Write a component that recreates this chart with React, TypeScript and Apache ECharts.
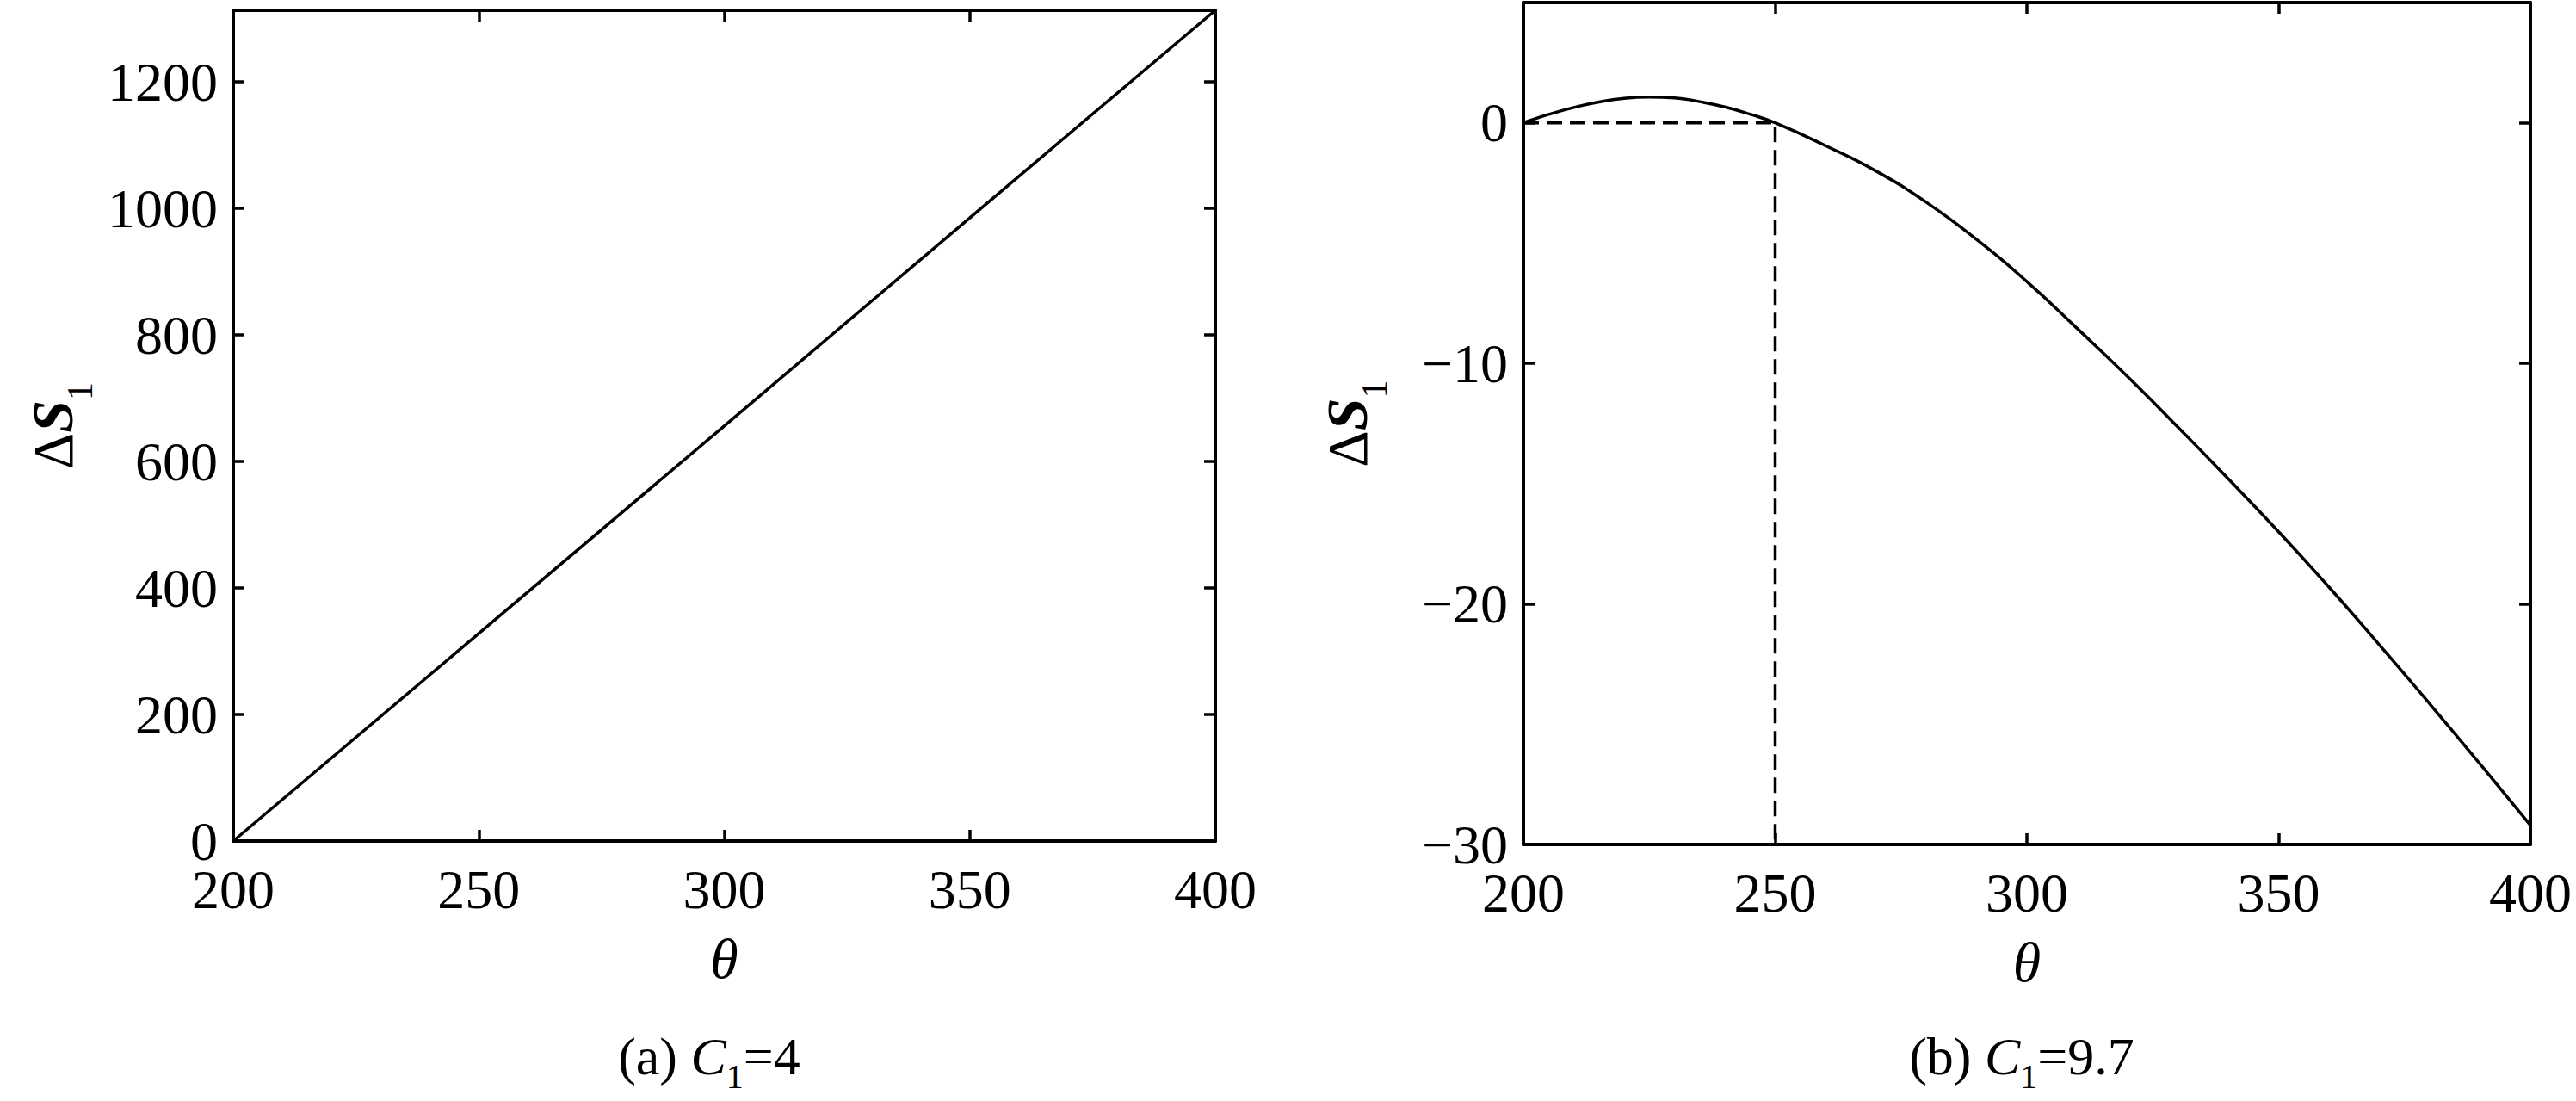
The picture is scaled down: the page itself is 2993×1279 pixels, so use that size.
import React, { useEffect, useRef } from "react";
import * as echarts from "echarts";

// Panel (a): C1 = 4
const thetaA = [200, 250, 300, 350, 400];
const dS1A = [0, 328, 656, 985, 1313];

// Panel (b): C1 = 9.7
const thetaB = [200, 205, 210, 215, 220, 225, 230, 235, 240, 245, 250, 260, 270, 280, 290, 300, 310, 320, 330, 340, 350, 360, 370, 380, 390, 400];
const dS1B = [0, 0.35, 0.64, 0.87, 1.02, 1.07, 1.04, 0.88, 0.66, 0.36, 0, -0.95, -2.0, -3.3, -4.85, -6.6, -8.55, -10.55, -12.65, -14.8, -17.0, -19.3, -21.7, -24.15, -26.65, -29.2];

// Dashed guide in panel (b)
const guideTheta = [200, 250, 250];
const guideVal = [0, 0, -30];

const xTicks = [200, 250, 300, 350, 400];
const yTicksA = [0, 200, 400, 600, 800, 1000, 1200];
const yTicksB = [-30, -20, -10, 0];

const FONT = "Liberation Serif, Times New Roman, serif";

export default function App() {
  const ref = useRef<HTMLDivElement>(null);
  useEffect(() => {
    const chart = echarts.init(ref.current!, null, { renderer: "svg" });
    const black = "#000";
    const axisLine = { show: true, onZero: false, lineStyle: { color: black, width: 4 } };
    const tick = { show: true, inside: true, length: 13, lineStyle: { color: black, width: 3.5 } };
    const labelBase = { color: black, fontSize: 64, fontFamily: FONT };

    const nameRich = {
      d: { fontSize: 66, fontFamily: FONT, color: black },
      s: { fontSize: 68, fontFamily: FONT, fontStyle: "italic", fontWeight: "bold", color: black },
      sub: { fontSize: 42, fontFamily: FONT, color: black, padding: [64, 0, 0, 0] },
    };

    const mkX = (gridIndex: number) => [
      {
        type: "value", gridIndex, min: xTicks[0], max: xTicks[xTicks.length - 1], interval: 50,
        position: "bottom", axisLine, axisTick: tick, splitLine: { show: false },
        axisLabel: { ...labelBase, margin: 24 },
        name: "θ", nameLocation: "middle", nameGap: 103,
        nameTextStyle: { fontSize: 66, fontStyle: "italic", fontFamily: FONT, color: black },
      },
      {
        type: "value", gridIndex, min: xTicks[0], max: xTicks[xTicks.length - 1], interval: 50,
        position: "top", axisLine, axisTick: tick, splitLine: { show: false },
        axisLabel: { show: false },
      },
    ];

    const capRich = {
      n: { fontSize: 62, fontFamily: FONT, color: black },
      i: { fontSize: 62, fontFamily: FONT, fontStyle: "italic", color: black },
      sub: { fontSize: 40, fontFamily: FONT, color: black, padding: [46, 0, 0, 0] },
    };

    const option: any = {
      animation: false,
      backgroundColor: "#fff",
      grid: [
        { left: 271, top: 12, width: 1141, height: 965 },
        { left: 1770, top: 3, width: 1170, height: 978 },
      ],
      xAxis: [...mkX(0), ...mkX(1)],
      yAxis: [
        {
          type: "value", gridIndex: 0, min: yTicksA[0], max: 1313, interval: 200,
          position: "left", axisLine, axisTick: tick, splitLine: { show: false },
          axisLabel: {
            ...labelBase, margin: 18, showMaxLabel: false,
            formatter: (v: number) => (yTicksA.includes(v) ? String(v) : ""),
          },
          name: "{d|Δ}{s|S}{sub|1}", nameLocation: "middle", nameGap: 157, nameRotate: 90,
          nameTextStyle: { color: black, rich: nameRich },
        },
        {
          type: "value", gridIndex: 0, min: yTicksA[0], max: 1313, interval: 200,
          position: "right", axisLine, axisTick: tick, splitLine: { show: false },
          axisLabel: { show: false },
        },
        {
          type: "value", gridIndex: 1, min: yTicksB[0], max: 5, interval: 10,
          position: "left", axisLine, axisTick: tick, splitLine: { show: false },
          axisLabel: {
            ...labelBase, margin: 18, showMaxLabel: false,
            formatter: (v: number) => (yTicksB.includes(v) ? (v < 0 ? "\u2212" + Math.abs(v) : String(v)) : ""),
          },
          name: "{d|Δ}{s|S}{sub|1}", nameLocation: "middle", nameGap: 152, nameRotate: 90,
          nameTextStyle: { color: black, rich: nameRich },
        },
        {
          type: "value", gridIndex: 1, min: yTicksB[0], max: 5, interval: 10,
          position: "right", axisLine, axisTick: tick, splitLine: { show: false },
          axisLabel: { show: false },
        },
      ],
      series: [
        {
          type: "line", xAxisIndex: 0, yAxisIndex: 0, showSymbol: false, symbol: "none",
          data: thetaA.map((t, i) => [t, dS1A[i]]),
          lineStyle: { color: black, width: 3.5 },
        },
        {
          type: "line", xAxisIndex: 2, yAxisIndex: 2, showSymbol: false, symbol: "none", smooth: 0.5,
          data: thetaB.map((t, i) => [t, dS1B[i]]),
          lineStyle: { color: black, width: 3.5 },
        },
        {
          type: "line", xAxisIndex: 2, yAxisIndex: 2, showSymbol: false, symbol: "none",
          data: guideTheta.map((t, i) => [t, guideVal[i]]),
          lineStyle: { color: black, width: 3.5, type: [18, 9] },
        },
      ],
      graphic: [
        {
          type: "text", x: 824, y: 1227,
          style: {
            text: "{n|(a) }{i|C}{sub|1}{n|=4}", align: "center", verticalAlign: "middle",
            fill: black, rich: capRich,
          },
        },
        {
          type: "text", x: 2349, y: 1227,
          style: {
            text: "{n|(b) }{i|C}{sub|1}{n|=9.7}", align: "center", verticalAlign: "middle",
            fill: black, rich: capRich,
          },
        },
      ],
    };
    chart.setOption(option);
    return () => chart.dispose();
  }, []);
  return (
    <div
      ref={ref}
      style={{ position: "fixed", left: 0, top: 0, width: 2993, height: 1279, background: "#fff" }}
    />
  );
}
